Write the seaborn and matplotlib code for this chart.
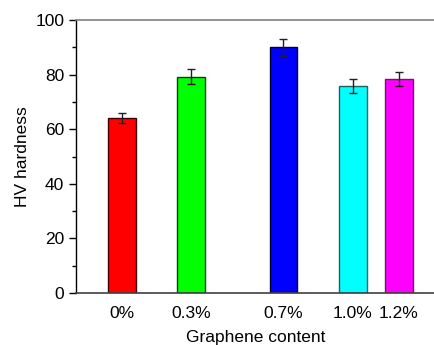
import matplotlib
matplotlib.use("Agg")
import matplotlib.pyplot as plt
from matplotlib.ticker import AutoMinorLocator
import seaborn as sns
import pandas as pd

content = [0.0, 0.3, 0.7, 1.0, 1.2]
labels = ["0%", "0.3%", "0.7%", "1.0%", "1.2%"]
hardness = [64.1, 79.3, 90.0, 75.8, 78.4]
errors = [1.9, 2.6, 3.2, 2.7, 2.4]
fill_colors = ["#ff0000", "#00ff00", "#0000ff", "#00ffff", "#ff00ff"]
edge_colors = ["#400000", "#104010", "#000030", "#206060", "#602060"]

sns.set_theme(style="ticks")
plt.rcParams["font.family"] = ["Liberation Sans", "DejaVu Sans"]
plt.rcParams["font.size"] = 12.5
plt.rcParams["text.color"] = "black"
plt.rcParams["axes.labelcolor"] = "black"
plt.rcParams["xtick.color"] = "black"
plt.rcParams["ytick.color"] = "black"

df = pd.DataFrame({"content": content, "hardness": hardness})

fig = plt.figure(figsize=(4.35, 3.45), dpi=100)
ax = fig.add_axes([0.1747, 0.1507, 0.8253, 0.7913])

sns.barplot(data=df, x="content", y="hardness", hue="content",
            palette=dict(zip(content, fill_colors)), native_scale=True,
            width=0.6, legend=False, ax=ax, linewidth=1.0, saturation=1)
for p, ec in zip(sorted(ax.patches, key=lambda r: r.get_x()), edge_colors):
    p.set_edgecolor(ec)

ax.errorbar(content, hardness, yerr=errors, fmt="none", ecolor="#202020",
            elinewidth=1.0, capsize=3, capthick=1.0)

ax.set_xlim(-0.198, 1.356)
ax.set_ylim(0, 100)
ax.set_xticks(content)
ax.set_xticklabels(labels, fontsize=12.5)
ax.tick_params(axis="x", length=0, pad=9)
ax.set_yticks([0, 20, 40, 60, 80, 100])
ax.yaxis.set_minor_locator(AutoMinorLocator(2))
ax.tick_params(axis="y", which="major", direction="out", length=5, width=1, labelsize=12.5, color="black")
ax.tick_params(axis="y", which="minor", direction="out", length=3, width=1, color="black")

ax.set_xlabel("Graphene content", fontsize=12.5, labelpad=7)
ax.set_ylabel("HV hardness", fontsize=12.5, labelpad=4)

ax.spines["right"].set_visible(False)
ax.spines["top"].set_color("#808080")
ax.spines["top"].set_linewidth(1.2)
ax.spines["bottom"].set_color("#404040")
ax.spines["bottom"].set_linewidth(1.2)
ax.spines["left"].set_color("black")
ax.spines["left"].set_linewidth(1.0)

fig.savefig("out.png", dpi=100)
